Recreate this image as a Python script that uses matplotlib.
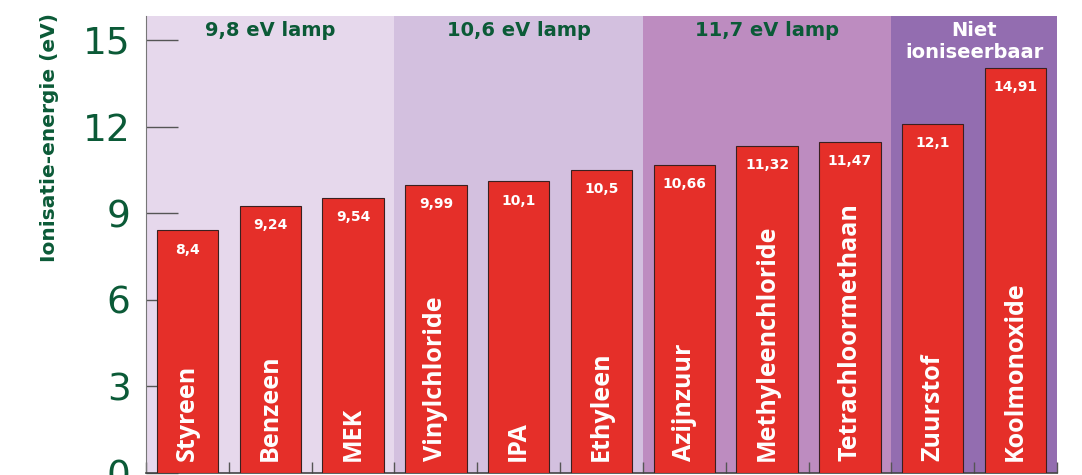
import matplotlib.pyplot as plt

plt.switch_backend('Agg')

# data
stoffen = ['Styreen', 'Benzeen', 'MEK', 'Vinylchloride', 'IPA', 'Ethyleen',
           'Azijnzuur', 'Methyleenchloride', 'Tetrachloormethaan', 'Zuurstof',
           'Koolmonoxide']
# bar heights as drawn in the original (the CO bar is drawn short, ~14, under the group title)
balk_hoogte = [8.4, 9.24, 9.54, 9.99, 10.1, 10.5, 10.66, 11.32, 11.47, 12.1, 14.03]
labels = ['8,4', '9,24', '9,54', '9,99', '10,1', '10,5', '10,66', '11,32',
          '11,47', '12,1', '14,91']
groepen = ['9,8 eV lamp', '10,6 eV lamp', '11,7 eV lamp', 'Niet\nioniseerbaar']
groep_grenzen = [(-0.5, 2.5), (2.5, 5.5), (5.5, 8.5), (8.5, 10.5)]
groep_kleuren = ['#e6d8ec', '#d3c0df', '#bd8cc0', '#936db0']
titel_kleuren = ['#0b5a37', '#0b5a37', '#0b5a37', 'white']
yticks = [0, 3, 6, 9, 12, 15]

groen = '#0b5a37'
rood = '#e52f29'

fig = plt.figure(figsize=(10.82, 4.75), dpi=100)
ax = fig.add_axes([146 / 1082, 2 / 475, 911 / 1082, 457 / 475])

for (a, b), c in zip(groep_grenzen, groep_kleuren):
    ax.axvspan(a, b, color=c, lw=0, zorder=0)

x = list(range(len(stoffen)))
ax.bar(x, balk_hoogte, width=0.74, color=rood, edgecolor='#3a2020', linewidth=0.8, zorder=3)

for xi, naam, h, lab in zip(x, stoffen, balk_hoogte, labels):
    ax.text(xi, 0.4, naam, rotation=90, ha='center', va='bottom', color='white',
            fontsize=18, fontweight='bold', family='Open Sans', zorder=4)
    ax.text(xi, h - 0.42, lab, ha='center', va='top', color='white',
            fontsize=10, fontweight='bold', family='DejaVu Sans', zorder=4)

for (a, b), g, tc in zip(groep_grenzen, groepen, titel_kleuren):
    ax.text((a + b) / 2, 15.66, g, ha='center', va='top', color=tc,
            fontsize=14, fontweight='bold', linespacing=1.2, zorder=4)

ax.set_xlim(-0.5, 10.5)
ax.set_ylim(0, 15.83)
ax.set_yticks(yticks)
ax.set_yticklabels([str(t) for t in yticks], color=groen, fontsize=27)
ax.tick_params(axis='y', direction='in', length=23, color='#555555', width=1, pad=11)
ax.set_xticks([i + 0.5 for i in range(-1, 11)])
ax.set_xticklabels([])
ax.tick_params(axis='x', direction='in', length=8, color='#555555', width=1)

for s in ['top', 'right']:
    ax.spines[s].set_visible(False)
ax.spines['left'].set_color('#777777')
ax.spines['bottom'].set_color('#444444')
ax.spines['bottom'].set_linewidth(1.2)

fig.text(50 / 1082, 1 - 138 / 475, 'Ionisatie-energie (eV)', rotation=90,
         ha='center', va='center', color=groen, fontsize=14.5, fontweight='bold')

fig.savefig('out.png', dpi=100)
plt.close(fig)
